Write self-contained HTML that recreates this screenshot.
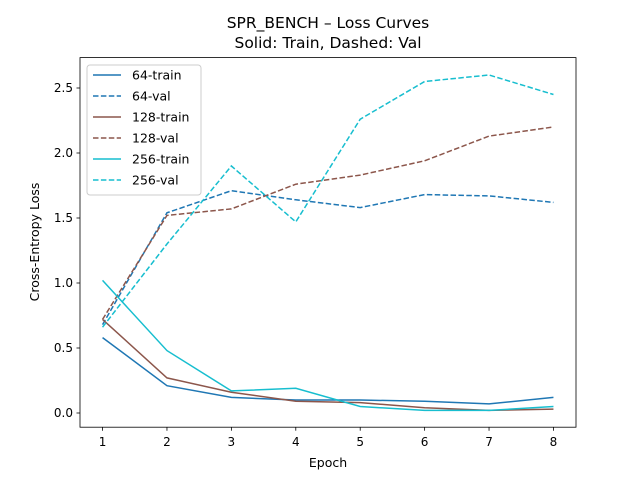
<!DOCTYPE html>
<html><head><meta charset="utf-8"><style>
body{margin:0;background:#fff;}
svg text{font-family:"DejaVu Sans","Liberation Sans",sans-serif;}
</style></head><body>
<svg id="chart" width="640" height="480" xmlns="http://www.w3.org/2000/svg">
<rect width="640" height="480" fill="#fff"/>
<text x="328" y="28" text-anchor="middle" font-size="15.5">SPR_BENCH – Loss Curves</text>
<text x="328" y="48" text-anchor="middle" font-size="15.5">Solid: Train, Dashed: Val</text>
<g id="plot"></g>
<rect x="80" y="57.6" width="496" height="369.6" fill="none" stroke="#000" stroke-width="0.8"/>
<text x="328" y="467" text-anchor="middle" font-size="12.5">Epoch</text>
<text transform="translate(39,242) rotate(-90)" text-anchor="middle" font-size="12.5">Cross-Entropy Loss</text>
<g id="legend"></g>
</svg>
<script>
const epochs=[1,2,3,4,5,6,7,8];
const yTicks=[0.0,0.5,1.0,1.5,2.0,2.5];
const train64=[0.58,0.21,0.12,0.10,0.10,0.09,0.07,0.12];
const val64=[0.68,1.54,1.71,1.64,1.58,1.68,1.67,1.62];
const train128=[0.72,0.27,0.16,0.09,0.08,0.04,0.02,0.03];
const val128=[0.72,1.52,1.57,1.76,1.83,1.94,2.13,2.20];
const train256=[1.02,0.48,0.17,0.19,0.05,0.02,0.02,0.05];
const val256=[0.66,1.30,1.90,1.47,2.26,2.55,2.60,2.45];
const seriesNames=["64-train","64-val","128-train","128-val","256-train","256-val"];

const NS="http://www.w3.org/2000/svg";
const xs=v=>80+(v-0.65)*(496/7.7);
const ys=v=>413-v*130;
const plot=document.getElementById('plot');
function mk(tag,attrs,parent){const e=document.createElementNS(NS,tag);for(const k in attrs)e.setAttribute(k,attrs[k]);parent.appendChild(e);return e;}
epochs.forEach(t=>{
  const l=mk('line',{x1:xs(t),x2:xs(t),y1:427.2,y2:430.7,stroke:'#000','stroke-width':0.8},plot);
  
  
  const tx=mk('text',{x:xs(t),y:446,'text-anchor':'middle','font-size':12},plot);
  tx.textContent=t;
  
  
});
yTicks.forEach(t=>{
  const l=mk('line',{x1:76.5,x2:80,y1:ys(t),y2:ys(t),stroke:'#000','stroke-width':0.8},plot);
  
  
  const tx=mk('text',{x:73,y:ys(t)+4,'text-anchor':'end','font-size':12},plot);
  tx.textContent=t.toFixed(1);
  
  
});
const series=[[train64,'#1f77b4',false],[val64,'#1f77b4',true],[train128,'#8c564b',false],[val128,'#8c564b',true],[train256,'#17becf',false],[val256,'#17becf',true]];
series.forEach((s,i)=>{
  const p=mk('polyline',{points:s[0].map((v,j)=>xs(epochs[j])+','+ys(v)).join(' '),fill:'none',stroke:s[1],'stroke-width':1.5},plot);
  if(s[2])p.setAttribute('stroke-dasharray','5.5,2.4');
  
  
});
const lg=document.getElementById('legend');
const box=mk('rect',{x:87,y:65,width:114,height:130,rx:3,fill:'#fff','fill-opacity':0.8,stroke:'#ccc'},lg);


series.forEach((s,i)=>{
  const y=75+i*21;
  const l=mk('line',{x1:93,x2:121,y1:y,y2:y,stroke:s[1],'stroke-width':1.5},lg);
  if(s[2])l.setAttribute('stroke-dasharray','5.5,2.4');
  
  
  const t=mk('text',{x:132,y:y+4.5,'font-size':12.5},lg);
  t.textContent=seriesNames[i];
  
  
});
</script>
</body></html>
